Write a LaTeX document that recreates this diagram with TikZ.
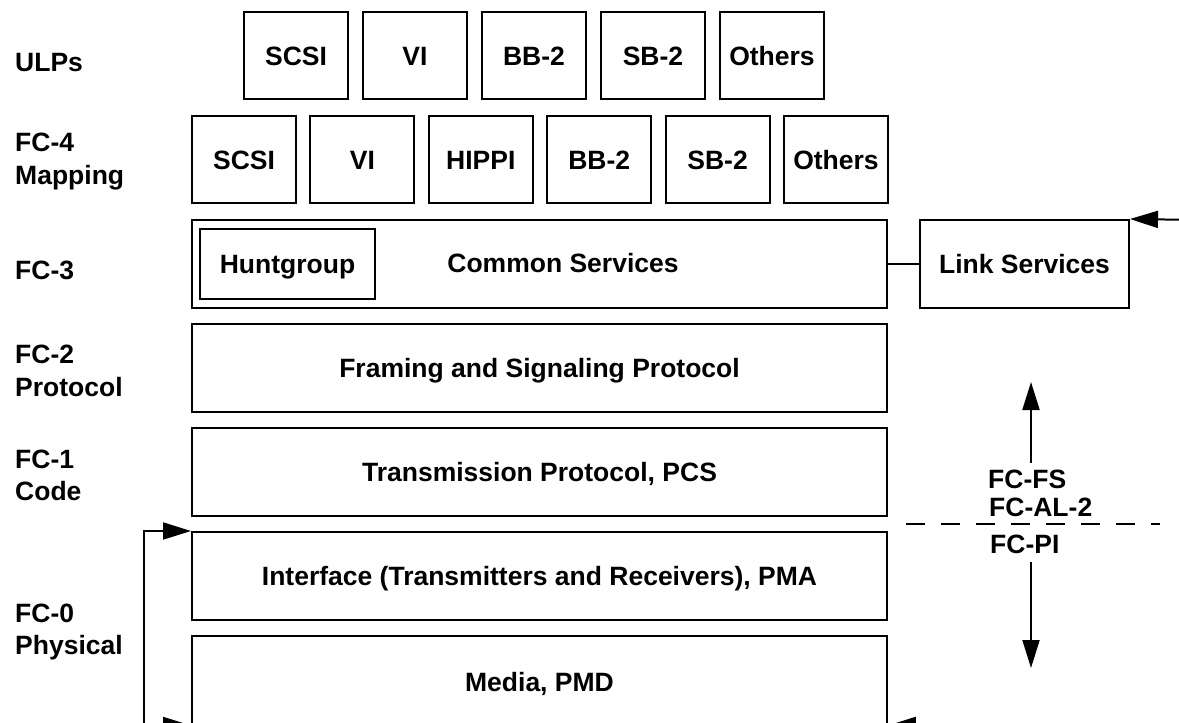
\documentclass[tikz,border=0pt]{standalone}
\usepackage{fontspec}
\setmainfont{Liberation Sans}
\usetikzlibrary{arrows.meta}
\begin{document}
\begin{tikzpicture}[x=1pt,y=-1pt,
  every node/.style={font=\bfseries\fontsize{26.5}{32}\selectfont},
  txt/.style={inner sep=0pt, text height=19pt, text depth=0pt},
  box/.style={draw, line width=2pt, inner sep=0pt, text height=19pt, text depth=0pt},
  ubox/.style={box, minimum width=104pt, minimum height=87pt},
  layer/.style={box, minimum width=695pt, minimum height=88pt},
  ln/.style={line width=2pt},
  arr/.style={line width=2pt, -{Triangle[length=28pt,width=17pt]}},
  darr/.style={line width=2pt, {Triangle[length=28pt,width=17pt]}-{Triangle[length=28pt,width=17pt]}}]
\useasboundingbox (0,0) rectangle (1179,723);
\clip (0,0) rectangle (1179,723);
% left labels
\node[txt, anchor=west] (lulp) at (15,62) {ULPs};
\node[txt, anchor=west] (l4a) at (15,142) {FC-4};
\node[txt, anchor=west] (l4b) at (15,175) {Mapping};
\node[txt, anchor=west] (l3) at (15,270) {FC-3};
\node[txt, anchor=west] (l2a) at (15,354) {FC-2};
\node[txt, anchor=west] (l2b) at (15,387) {Protocol};
\node[txt, anchor=west] (l1a) at (15,459) {FC-1};
\node[txt, anchor=west] (l1b) at (15,491) {Code};
\node[txt, anchor=west] (l0a) at (15,613) {FC-0};
\node[txt, anchor=west] (l0b) at (15,645) {Physical};
% ULPs row
\node[ubox] (u1) at (296,55.5) {SCSI};
\node[ubox] (u2) at (415,55.5) {VI};
\node[ubox] (u3) at (534,55.5) {BB-2};
\node[ubox] (u4) at (653,55.5) {SB-2};
\node[ubox] (u5) at (772,55.5) {Others};
% FC-4 row
\node[ubox] (m1) at (244,159.5) {SCSI};
\node[ubox] (m2) at (362.4,159.5) {VI};
\node[ubox] (m3) at (480.8,159.5) {HIPPI};
\node[ubox] (m4) at (599.2,159.5) {BB-2};
\node[ubox] (m5) at (717.6,159.5) {SB-2};
\node[ubox] (m6) at (836,159.5) {Others};
% layers
\node[layer] (cs) at (539.5,264) {};
\node[txt] (cst) at (563,263) {Common Services};
\node[box, minimum width=175pt, minimum height=70pt] (hg) at (287.5,263.5) {Huntgroup};
\node[layer] (fr) at (539.5,368) {Framing and Signaling Protocol};
\node[layer] (tr) at (539.5,472) {Transmission Protocol, PCS};
\node[layer] (pma) at (539.5,576) {Interface (Transmitters and Receivers), PMA};
\node[layer, minimum height=88.5pt] (md) at (539.5,680.25) {};
\node[txt] (mdt) at (539.5,682) {Media, PMD};
% link services
\node[box, minimum width=209pt, minimum height=88pt] (ls) at (1024.5,264) {Link Services};
\draw[ln] (cs.east) -- (ls.west);
\coordinate (tr1) at (1200,220);
\draw[arr] (tr1) -- (ls.north east);
% bottom bracket
\draw[darr] (pma.north west) -- ++(-47,0) |- (md.south west);
\coordinate (br1) at (1200,724.5);
\draw[arr] (br1) -- (md.south east);
% FC-FS / FC-PI
\node[txt, anchor=west] (fs) at (988,478.5) {FC-FS};
\node[txt, anchor=west] (al) at (989,506.5) {FC-AL-2};
\node[txt, anchor=west] (pi) at (990,543.5) {FC-PI};
\coordinate (va) at (1031,463);
\coordinate (vat) at (1031,382);
\coordinate (vb) at (1031,562);
\coordinate (vbt) at (1031,668);
\draw[arr] (va) -- (vat);
\draw[arr] (vb) -- (vbt);
\coordinate (d1) at (906,524);
\coordinate (d2) at (1160,524);
\draw[line width=2pt, dash pattern=on 19pt off 16pt] (d1) -- (d2);
\end{tikzpicture}
\end{document}
